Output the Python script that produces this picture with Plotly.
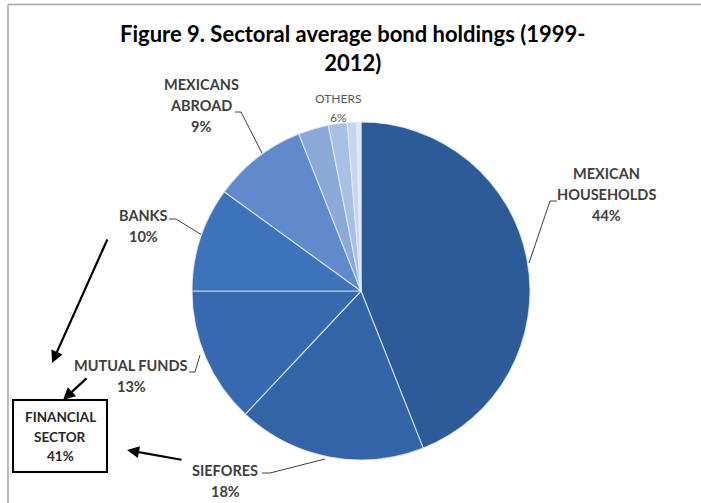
import plotly.graph_objects as go

# Average share of government bond holdings by sector, 1999-2012 (%)
sectors = ["MEXICAN<br>HOUSEHOLDS", "SIEFORES", "MUTUAL FUNDS", "BANKS",
           "MEXICANS<br>ABROAD", "OTHERS A", "OTHERS B", "OTHERS C", "OTHERS D"]
shares = [44, 18, 13, 10, 9, 2.9, 1.8, 0.9, 0.4]
slice_colors = ["#2C5B97", "#3364A8", "#3669AF", "#3D73BA", "#5F8ACB",
                "#8AA8D8", "#A9C0E3", "#C7D6EE", "#DEE6F4"]

financial_idx = [1, 2, 3]   # SIEFORES, MUTUAL FUNDS, BANKS
others_idx = [5, 6, 7, 8]

W, H = 701, 503
total = sum(shares)
pct = [round(v / total * 100) for v in shares]
others_pct = round(sum(shares[i] for i in others_idx) / total * 100)
financial_pct = round(sum(shares[i] for i in financial_idx) / total * 100)

# pie geometry in pixels
cx, cy, r = 361, 291, 169

fig = go.Figure()
fig.add_trace(go.Pie(
    values=shares, labels=sectors, sort=False, direction="clockwise", rotation=0,
    marker=dict(colors=slice_colors, line=dict(color="rgba(230,236,246,0.75)", width=1.2)),
    textinfo="none", hoverinfo="label+percent", showlegend=False,
    domain=dict(x=[(cx - r) / W, (cx + r) / W], y=[(H - cy - r) / H, (H - cy + r) / H]),
))

# leader lines (pixel coordinates on a hidden overlay axis)
leaders = [
    [(557, 201), (550, 201), (529, 263)],
    [(262, 473), (270, 473), (325, 459)],
    [(189, 372), (195, 372), (200, 355)],
    [(169, 219), (176, 219), (202, 235)],
    [(235, 112), (241, 112), (263, 155)],
]
for pts in leaders:
    fig.add_trace(go.Scatter(
        x=[p[0] for p in pts], y=[p[1] for p in pts], mode="lines",
        line=dict(color="#404040", width=1), hoverinfo="skip", showlegend=False,
        xaxis="x", yaxis="y"))

font_family = "Lato, 'Open Sans', sans-serif"
annotations = []


def stacked_text(lines, x, y_first, step, font, bold=True):
    """Place each text line as its own annotation with a fixed line step."""
    for k, line in enumerate(lines):
        annotations.append(dict(
            x=x, y=y_first + k * step, xref="x", yref="y", showarrow=False,
            text=f"<b>{line}</b>" if bold else line, font=font, align="center"))


label_font = dict(family=font_family, size=14.5, color="#404040")
label_pos = {0: (606, 173), 1: (225, 470), 2: (131, 365), 3: (143, 215), 4: (201, 84)}
for i, (x, y) in label_pos.items():
    stacked_text(sectors[i].split("<br>") + [f"{pct[i]}%"], x, y, 21, label_font)

stacked_text(["OTHERS", f"{others_pct}%"], 338, 98, 19,
             dict(family=font_family, size=12, color="#595959"), bold=False)

stacked_text(["FINANCIAL", "SECTOR", f"{financial_pct}%"], 60, 417, 19.5,
             dict(family=font_family, size=13.5, color="#262626"))

# arrows pointing at the financial sector box
arrows = [((108, 238), (52, 363)), ((88, 377), (63, 400)), ((183, 460), (127, 450))]
for (tx, ty), (hx, hy) in arrows:
    annotations.append(dict(
        x=hx, y=hy, ax=tx, ay=ty, xref="x", yref="y", axref="x", ayref="y",
        text="", showarrow=True, arrowhead=2, arrowsize=1.1, arrowwidth=2.2,
        arrowcolor="#000000"))

annotations.append(dict(
    x=352, y=48, xref="x", yref="y", showarrow=False,
    text="<b>Figure 9. Sectoral average bond holdings (1999-<br>2012)</b>",
    font=dict(family=font_family, size=22, color="#000000"), align="center"))

shapes = [
    dict(type="rect", xref="x", yref="y", x0=13, y0=400, x1=107, y1=472,
         line=dict(color="#000000", width=2)),
    dict(type="line", xref="x", yref="y", x0=8, y0=4.5, x1=701, y1=4.5,
         line=dict(color="#A6A6A6", width=1.5)),
    dict(type="line", xref="x", yref="y", x0=8, y0=4.5, x1=8, y1=503,
         line=dict(color="#A6A6A6", width=1.5)),
]

fig.update_layout(
    width=W, height=H, margin=dict(l=0, r=0, t=0, b=0),
    paper_bgcolor="white", plot_bgcolor="rgba(0,0,0,0)",
    xaxis=dict(range=[0, W], visible=False, fixedrange=True, domain=[0, 1]),
    yaxis=dict(range=[H, 0], visible=False, fixedrange=True, domain=[0, 1]),
    annotations=annotations, shapes=shapes,
)

fig.write_html("out.html")
